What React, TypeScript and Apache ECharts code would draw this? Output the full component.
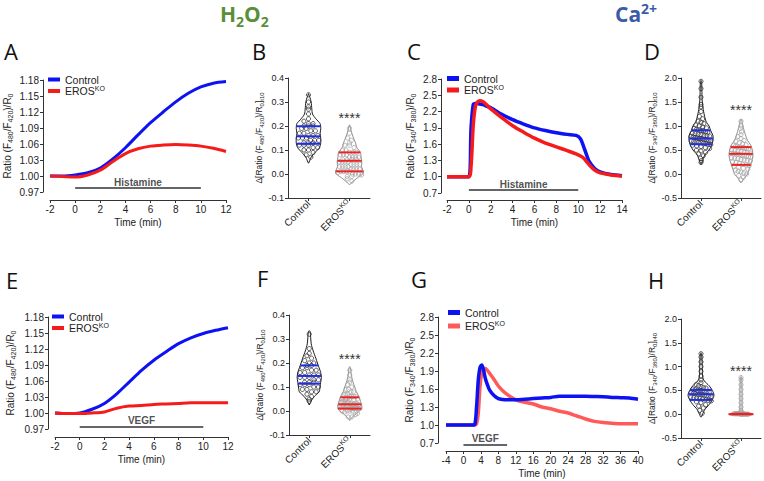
import React, { useEffect, useRef } from 'react';
import * as echarts from 'echarts';

const FONT = 'Liberation Sans, Arial, sans-serif';
const LETTER_FONT = 'Open Sans, sans-serif';
const BLUE = '#0d12f2';
const RED = '#f51b1b';
const RED_LIGHT = '#ff5a5a';
const AX = '#333333';
const TXT = '#222222';

// ---------- Panel A (H2O2, histamine) ----------
const A_TIME = [-2, -1, 0, 1, 2, 3, 4, 5, 6, 7, 8, 9, 10, 11, 12];
const A_CTRL = [1.0, 1.0, 1.002, 1.006, 1.015, 1.032, 1.053, 1.077, 1.1, 1.12, 1.139, 1.155, 1.167, 1.174, 1.177];
const A_KO = [1.0, 0.999, 0.998, 1.002, 1.011, 1.027, 1.042, 1.051, 1.056, 1.058, 1.059, 1.058, 1.056, 1.052, 1.046];
const A_Y = [0.97, 1.18, 0.03];
const A_X = [-2, 12, 2];
const A_STIM = [0, 10];
const A_STIM_Y = 0.9775;

// ---------- Panel C (Ca2+, histamine) ----------
const C_TIME = [-2, -1, 0, 0.2, 0.4, 0.6, 0.8, 1, 1.3, 1.6, 2, 3, 4, 5, 6, 7, 8, 9, 9.8, 10.2, 10.5, 10.8, 11, 11.5, 12, 13, 14];
const C_CTRL = [1.0, 1.0, 1.0, 1.9, 2.33, 2.35, 2.35, 2.34, 2.33, 2.3, 2.27, 2.15, 2.05, 1.97, 1.9, 1.85, 1.81, 1.78, 1.76, 1.7, 1.55, 1.38, 1.28, 1.15, 1.09, 1.04, 1.02];
const C_KO = [1.0, 1.0, 1.0, 1.2, 1.95, 2.3, 2.38, 2.4, 2.38, 2.33, 2.25, 2.09, 1.94, 1.82, 1.71, 1.62, 1.55, 1.48, 1.42, 1.38, 1.34, 1.27, 1.22, 1.12, 1.07, 1.03, 1.01];
const C_Y = [0.7, 2.8, 0.3];
const C_X = [-2, 14, 2];
const C_STIM = [0, 10];
const C_STIM_Y = 0.755;

// ---------- Panel E (H2O2, VEGF) ----------
const E_TIME = [-2, -1, 0, 1, 2, 3, 4, 5, 6, 7, 8, 9, 10, 11, 12];
const E_CTRL = [1.0, 0.999, 1.0, 1.007, 1.018, 1.036, 1.058, 1.08, 1.099, 1.115, 1.13, 1.141, 1.149, 1.155, 1.16];
const E_KO = [1.0, 0.999, 0.999, 1.0, 1.002, 1.009, 1.013, 1.014, 1.016, 1.017, 1.018, 1.019, 1.019, 1.019, 1.019];
const E_Y = [0.97, 1.18, 0.03];
const E_X = [-2, 12, 2];
const E_STIM = [0, 10];
const E_STIM_Y = 0.9738;

// ---------- Panel G (Ca2+, VEGF) ----------
const G_TIME = [-4, -2, 0, 2, 2.6, 3, 3.4, 3.8, 4.2, 4.6, 5, 5.5, 6, 7, 8, 9, 10, 12, 14, 16, 18, 20, 22, 24, 26, 28, 30, 32, 34, 36, 38, 40];
const G_CTRL = [1.0, 1.0, 1.0, 1.0, 1.01, 1.3, 1.75, 1.96, 2.0, 1.92, 1.78, 1.67, 1.58, 1.49, 1.44, 1.425, 1.42, 1.42, 1.43, 1.44, 1.45, 1.46, 1.48, 1.48, 1.48, 1.48, 1.475, 1.47, 1.46, 1.455, 1.45, 1.43];
const G_KO = [1.0, 1.0, 1.0, 1.0, 1.0, 1.02, 1.2, 1.65, 1.87, 1.93, 1.94, 1.91, 1.86, 1.76, 1.65, 1.57, 1.51, 1.42, 1.38, 1.35, 1.3, 1.27, 1.23, 1.2, 1.15, 1.1, 1.06, 1.04, 1.03, 1.02, 1.02, 1.02];
const G_Y = [0.7, 2.8, 0.3];
const G_X = [-4, 40, 4];
const G_STIM = [0, 10];
const G_STIM_Y = 0.667;

// ---------- Violin panels ----------
const VIOLIN_CATS = ['Control', 'EROS'];

// profiles: [value, relative density]
const B_CTRL_PROFILE = [[0.045, 0], [0.05, 0.05], [0.07, 0.2], [0.09, 0.5], [0.11, 0.82], [0.13, 0.92], [0.15, 0.92], [0.17, 0.87], [0.19, 0.92], [0.21, 0.87], [0.23, 0.55], [0.25, 0.3], [0.27, 0.25], [0.3, 0.2], [0.32, 0.1], [0.335, 0]];
const B_CTRL_Q = [0.126, 0.157, 0.199];
const B_CTRL_PTS = [0.33, 0.3, 0.28, 0.27, 0.25, 0.23, 0.22, 0.21, 0.21, 0.2, 0.2, 0.2, 0.19, 0.19, 0.18, 0.18, 0.17, 0.17, 0.16, 0.16, 0.16, 0.15, 0.15, 0.15, 0.14, 0.14, 0.14, 0.13, 0.13, 0.13, 0.12, 0.12, 0.12, 0.11, 0.11, 0.1, 0.1, 0.09, 0.08, 0.07];
const B_KO_PROFILE = [[-0.045, 0], [-0.04, 0.08], [-0.02, 0.5], [0, 1.0], [0.01, 1.05], [0.03, 0.9], [0.05, 0.92], [0.07, 0.87], [0.09, 0.82], [0.11, 0.55], [0.13, 0.45], [0.15, 0.3], [0.18, 0.12], [0.2, 0.03], [0.205, 0]];
const B_KO_Q = [0.011, 0.055, 0.09];
const B_KO_PTS = [0.19, 0.17, 0.15, 0.14, 0.13, 0.12, 0.12, 0.11, 0.1, 0.1, 0.09, 0.09, 0.09, 0.08, 0.08, 0.08, 0.07, 0.07, 0.07, 0.07, 0.06, 0.06, 0.06, 0.06, 0.05, 0.05, 0.05, 0.05, 0.04, 0.04, 0.04, 0.04, 0.03, 0.03, 0.03, 0.03, 0.02, 0.02, 0.02, 0.02, 0.01, 0.01, 0.01, 0.01, 0.01, 0.0, 0.0, 0.0, 0.0, -0.01, -0.01, -0.02, -0.03];
const B_Y = [-0.1, 0.4, 0.1];
const B_STAR = 0.245;

const D_CTRL_PROFILE = [[0.2, 0], [0.22, 0.05], [0.3, 0.15], [0.4, 0.3], [0.5, 0.62], [0.6, 0.82], [0.7, 0.92], [0.8, 0.92], [0.9, 0.75], [1.0, 0.62], [1.1, 0.38], [1.3, 0.2], [1.5, 0.1], [1.7, 0.07], [1.93, 0.05], [1.95, 0]];
const D_CTRL_Q = [0.62, 0.74, 0.91];
const D_CTRL_PTS = [1.93, 1.78, 1.6, 1.45, 1.4, 1.3, 1.2, 1.15, 1.1, 1.08, 1.05, 1.02, 1.0, 0.98, 0.96, 0.95, 0.93, 0.92, 0.9, 0.9, 0.88, 0.87, 0.85, 0.84, 0.83, 0.82, 0.8, 0.8, 0.79, 0.78, 0.77, 0.76, 0.75, 0.74, 0.74, 0.73, 0.72, 0.71, 0.7, 0.7, 0.69, 0.68, 0.67, 0.66, 0.65, 0.64, 0.63, 0.62, 0.61, 0.6, 0.58, 0.57, 0.55, 0.53, 0.5, 0.48, 0.45, 0.42, 0.38, 0.33, 0.28, 0.24];
const D_KO_PROFILE = [[-0.18, 0], [-0.17, 0.05], [-0.1, 0.2], [0, 0.5], [0.1, 0.62], [0.2, 0.75], [0.3, 0.87], [0.4, 0.92], [0.5, 0.87], [0.6, 0.75], [0.7, 0.5], [0.85, 0.3], [1.0, 0.15], [1.12, 0.05], [1.14, 0]];
const D_KO_Q = [0.19, 0.42, 0.56];
const D_KO_PTS = [1.1, 1.0, 0.95, 0.88, 0.82, 0.78, 0.74, 0.7, 0.68, 0.65, 0.63, 0.61, 0.6, 0.58, 0.57, 0.56, 0.55, 0.54, 0.53, 0.52, 0.5, 0.49, 0.48, 0.47, 0.46, 0.45, 0.44, 0.43, 0.42, 0.42, 0.41, 0.4, 0.39, 0.38, 0.37, 0.36, 0.35, 0.34, 0.33, 0.32, 0.3, 0.29, 0.28, 0.27, 0.25, 0.24, 0.22, 0.2, 0.19, 0.18, 0.16, 0.14, 0.12, 0.1, 0.08, 0.06, 0.04, 0.02, 0.0, -0.03, -0.07, -0.12];
const D_Y = [-0.5, 2.0, 0.5];
const D_STAR = 1.4;

const F_CTRL_PROFILE = [[0.025, 0], [0.03, 0.05], [0.04, 0.12], [0.06, 0.38], [0.08, 0.75], [0.1, 0.82], [0.12, 0.87], [0.14, 0.92], [0.16, 0.87], [0.18, 0.75], [0.2, 0.62], [0.22, 0.5], [0.25, 0.3], [0.28, 0.15], [0.33, 0.07], [0.335, 0]];
const F_CTRL_Q = [0.114, 0.146, 0.19];
const F_CTRL_PTS = [0.32, 0.26, 0.24, 0.23, 0.22, 0.21, 0.2, 0.2, 0.19, 0.19, 0.18, 0.18, 0.17, 0.17, 0.16, 0.16, 0.15, 0.15, 0.15, 0.14, 0.14, 0.14, 0.13, 0.13, 0.12, 0.12, 0.12, 0.11, 0.11, 0.11, 0.1, 0.1, 0.09, 0.09, 0.08, 0.08, 0.07, 0.06, 0.05, 0.04];
const F_KO_PROFILE = [[-0.04, 0], [-0.035, 0.05], [-0.02, 0.3], [0, 0.75], [0.01, 0.9], [0.02, 0.92], [0.04, 0.82], [0.06, 0.7], [0.08, 0.5], [0.1, 0.38], [0.12, 0.25], [0.15, 0.12], [0.18, 0.05], [0.185, 0]];
const F_KO_Q = [0.01, 0.028, 0.057];
const F_KO_PTS = [0.17, 0.15, 0.13, 0.12, 0.11, 0.1, 0.09, 0.09, 0.08, 0.08, 0.07, 0.07, 0.07, 0.06, 0.06, 0.06, 0.06, 0.05, 0.05, 0.05, 0.05, 0.05, 0.04, 0.04, 0.04, 0.04, 0.04, 0.04, 0.03, 0.03, 0.03, 0.03, 0.03, 0.03, 0.03, 0.02, 0.02, 0.02, 0.02, 0.02, 0.02, 0.02, 0.02, 0.01, 0.01, 0.01, 0.01, 0.01, 0.01, 0.01, 0.01, 0.0, 0.0, 0.0, 0.0, 0.0, -0.01, -0.01, -0.02, -0.02];
const F_Y = [-0.1, 0.4, 0.1];
const F_STAR = 0.23;

const H_CTRL_PROFILE = [[-0.06, 0], [-0.05, 0.05], [0, 0.12], [0.1, 0.3], [0.2, 0.62], [0.3, 0.87], [0.4, 1.0], [0.5, 0.87], [0.6, 0.62], [0.7, 0.25], [0.8, 0.12], [1.0, 0.1], [1.27, 0.05], [1.29, 0]];
const H_CTRL_Q = [0.3, 0.42, 0.51];
const H_CTRL_PTS = [1.27, 1.2, 1.1, 1.0, 0.9, 0.8, 0.72, 0.66, 0.62, 0.6, 0.58, 0.56, 0.55, 0.53, 0.52, 0.5, 0.5, 0.49, 0.48, 0.47, 0.46, 0.45, 0.44, 0.43, 0.42, 0.42, 0.41, 0.4, 0.39, 0.38, 0.37, 0.36, 0.35, 0.34, 0.33, 0.32, 0.3, 0.29, 0.28, 0.26, 0.24, 0.2, 0.17, 0.13, 0.08, 0.02];
const H_KO_PROFILE = [[-0.035, 0], [-0.03, 0.05], [-0.02, 0.75], [0, 0.95], [0.02, 0.5], [0.07, 0.12], [0.2, 0.08], [0.5, 0.08], [0.77, 0.05], [0.79, 0]];
const H_KO_Q = [0.0, 0.005, 0.01];
const H_KO_PTS = [0.77, 0.72, 0.62, 0.52, 0.42, 0.33, 0.24, 0.15, 0.08, 0.04, 0.02, 0.01, 0.01, 0.01, 0.01, 0.01, 0.01, 0.0, 0.0, 0.0, 0.0, 0.0, 0.0, 0.0, 0.0];
const H_Y = [-0.5, 2.0, 0.5];
const H_STAR = 0.98;

// ---------- helpers ----------
const VIOLIN_HALF = 0.325; // max half-width as fraction of band
const ROW_PX = 4.2;
const SPACING = 4.6;
const PR = 2.1;

const RICH = {
  m: { fontSize: 10, lineHeight: 14, verticalAlign: 'middle', fontFamily: FONT, color: TXT },
  s: { fontSize: 7, lineHeight: 8, verticalAlign: 'bottom', fontFamily: FONT, color: TXT },
  sup: { fontSize: 7, lineHeight: 8, verticalAlign: 'top', fontFamily: FONT, color: TXT },
};
const RICH_SMALL = {
  m: { fontSize: 8.5, lineHeight: 11, verticalAlign: 'middle', fontFamily: FONT, color: TXT },
  s: { fontSize: 6, lineHeight: 7, verticalAlign: 'bottom', fontFamily: FONT, color: TXT },
  sup: { fontSize: 6, lineHeight: 7, verticalAlign: 'top', fontFamily: FONT, color: TXT },
};
const RICH_CAT = {
  m: { fontSize: 10, lineHeight: 13, verticalAlign: 'middle', fontFamily: FONT, color: TXT },
  sup: { fontSize: 7, lineHeight: 8, verticalAlign: 'top', fontFamily: FONT, color: TXT },
};

function densAt(profile: number[][], v: number) {
  for (let i = 0; i < profile.length - 1; i++) {
    const [v0, d0] = profile[i];
    const [v1, d1] = profile[i + 1];
    if (v >= v0 && v <= v1) return d0 + ((d1 - d0) * (v - v0)) / (v1 - v0 || 1);
  }
  return 0;
}

type Group = { profile: number[][]; q: number[]; pts: number[]; outline: string; pc: string; qc: string };

function makeViolin(groups: Group[], star: number) {
  return (params: any, api: any) => {
    const i = params.dataIndex;
    const g = groups[i];
    const cx = api.coord([i, 0])[0];
    const band = api.size([1, 0])[0];
    const maxHalf = band * VIOLIN_HALF;
    const yOf = (v: number) => api.coord([i, v])[1];
    const right = g.profile.map(([v, d]) => [cx + d * maxHalf, yOf(v)]);
    const left = g.profile.slice().reverse().map(([v, d]) => [cx - d * maxHalf, yOf(v)]);
    const children: any[] = [];
    children.push({
      type: 'polygon',
      shape: { points: right.concat(left), smooth: 0.25 },
      style: { fill: 'none', stroke: g.outline, lineWidth: 1 },
    });
    const rows: Record<string, number[]> = {};
    g.pts.forEach((v) => {
      const key = String(Math.round(yOf(v) / ROW_PX));
      (rows[key] = rows[key] || []).push(v);
    });
    Object.keys(rows).forEach((k) => {
      const vs = rows[k];
      const n = vs.length;
      const lim = Math.max(densAt(g.profile, vs[0]) * maxHalf - PR, 0);
      let sp = SPACING;
      if (n > 1 && ((n - 1) * sp) / 2 > lim) sp = (2 * lim) / (n - 1);
      vs.forEach((v, j) => {
        children.push({
          type: 'circle',
          shape: { cx: cx + (j - (n - 1) / 2) * sp, cy: yOf(v), r: PR },
          style: { fill: 'none', stroke: g.pc, lineWidth: 0.8 },
        });
      });
    });
    g.q.forEach((q) => {
      const h = Math.max(densAt(g.profile, q) * maxHalf, 3);
      children.push({
        type: 'line',
        shape: { x1: cx - h, y1: yOf(q), x2: cx + h, y2: yOf(q) },
        style: { stroke: g.qc, lineWidth: 2 },
      });
    });
    if (i === 1) {
      children.push({
        type: 'text',
        style: { text: '****', x: cx, y: yOf(star) + 3, align: 'center', verticalAlign: 'middle', fontSize: 14, fontFamily: FONT, fill: '#333' },
      });
    }
    return { type: 'group', children };
  };
}

const zip = (t: number[], v: number[]) => t.map((x, i) => [x, v[i]]);

const axLine = { show: true, onZero: false, lineStyle: { color: AX, width: 1 } };
const axTick = { show: true, length: 3, lineStyle: { color: AX, width: 1 } };

function lineXAxis(gi: number, r: number[], offset: number) {
  return {
    type: 'value', gridIndex: gi, min: r[0], max: r[1], interval: r[2], offset,
    axisLine: axLine, axisTick: axTick, splitLine: { show: false },
    axisLabel: { fontSize: 10, color: TXT, margin: 4, fontFamily: FONT },
    name: 'Time (min)', nameLocation: 'middle', nameGap: 17,
    nameTextStyle: { fontSize: 10, color: TXT, fontFamily: FONT },
  };
}
function lineYAxis(gi: number, r: number[], offset: number, digits: number, name: string, gap: number) {
  return {
    type: 'value', gridIndex: gi, min: r[0], max: r[1], interval: r[2], offset,
    axisLine: axLine, axisTick: axTick, splitLine: { show: false },
    axisLabel: { fontSize: 10, color: TXT, margin: 4, fontFamily: FONT, formatter: (v: number) => v.toFixed(digits) },
    name, nameLocation: 'middle', nameRotate: 90, nameGap: gap,
    nameTextStyle: { fontSize: 10, color: TXT, fontFamily: FONT, rich: RICH },
  };
}
function violinXAxis(gi: number) {
  return {
    type: 'category', gridIndex: gi, data: VIOLIN_CATS,
    axisLine: axLine, axisTick: { ...axTick, alignWithLabel: true }, splitLine: { show: false },
    axisLabel: {
      rotate: 45, fontSize: 10, color: TXT, margin: 4, fontFamily: FONT, interval: 0,
      formatter: (v: string) => (v === 'EROS' ? '{m|EROS}{sup|KO}' : '{m|Control}'),
      rich: RICH_CAT,
    },
  };
}
function violinYAxis(gi: number, r: number[], name: string, gap: number) {
  return {
    type: 'value', gridIndex: gi, min: r[0], max: r[1], interval: r[2],
    axisLine: axLine, axisTick: axTick, splitLine: { show: false },
    axisLabel: { fontSize: 9, color: TXT, margin: 4, fontFamily: FONT, formatter: (v: number) => v.toFixed(1) },
    name, nameLocation: 'middle', nameRotate: 90, nameGap: gap,
    nameTextStyle: { fontSize: 8.5, color: TXT, fontFamily: FONT, rich: RICH_SMALL },
  };
}

function curve(name: string, gi: number, t: number[], v: number[], color: string, width: number) {
  return {
    type: 'line', name, xAxisIndex: gi, yAxisIndex: gi, data: zip(t, v),
    showSymbol: false, symbol: 'none', smooth: 0.3, clip: false,
    lineStyle: { color, width }, itemStyle: { color }, z: 3, silent: true,
  };
}
function stim(gi: number, range: number[], y: number, label: string) {
  return [
    {
      type: 'line', xAxisIndex: gi, yAxisIndex: gi, data: range.map((x) => [x, y]),
      showSymbol: false, symbol: 'none', clip: false, silent: true,
      lineStyle: { color: '#333', width: 1.5 },
    },
    {
      type: 'scatter', xAxisIndex: gi, yAxisIndex: gi, data: [[(range[0] + range[1]) / 2, y]],
      symbolSize: 0, clip: false, silent: true,
      label: { show: true, position: 'top', distance: 1, formatter: label, fontSize: 10, fontWeight: 'bold', color: TXT, fontFamily: FONT },
    },
  ];
}
function legend(prefix: string, left: number, top: number, ko: string, h: number, gap: number) {
  return {
    data: [
      { name: prefix + '_ctrl', itemStyle: { color: BLUE } },
      { name: prefix + '_ko', itemStyle: { color: ko } },
    ],
    left, top, orient: 'vertical', icon: 'rect', itemWidth: 12, itemHeight: h, itemGap: gap,
    padding: 0, selectedMode: false,
    formatter: (n: string) => (n.endsWith('_ctrl') ? '{m|Control}' : '{m|EROS}{sup|KO}'),
    textStyle: { fontSize: 10.5, color: TXT, fontFamily: FONT, rich: { ...RICH, m: { ...RICH.m, fontSize: 10.5, lineHeight: 12 } } },
  };
}
function violinSeries(gi: number, groups: Group[], star: number) {
  return {
    type: 'custom', xAxisIndex: gi, yAxisIndex: gi, data: [[0, 0], [1, 0]], encode: { x: 0, y: 1 },
    renderItem: makeViolin(groups, star), silent: true, clip: false, z: 2,
  };
}
const ctrlStyle = { outline: '#1a1a1a', pc: '#333333', qc: '#1f2ee8' };
const koStyle = { outline: '#8c8c8c', pc: '#a3a3a3', qc: '#ee2222' };

const H2O2_NAME = '{m|Ratio (F}{s|480}{m|/F}{s|420}{m|)/R}{s|0}';
const CA_NAME = '{m|Ratio (F}{s|340}{m|/F}{s|380}{m|)/R}{s|0}';
const D480 = '{m|Δ[Ratio (F}{s|480}{m|/F}{s|420}{m|)/R}{s|0}{m|]}{s|t10}';
const D340_10 = '{m|Δ[Ratio (F}{s|340}{m|/F}{s|380}{m|)/R}{s|0}{m|]}{s|t10}';
const D340_40 = '{m|Δ[Ratio (F}{s|340}{m|/F}{s|380}{m|)/R}{s|0}{m|]}{s|t40}';

function letter(t: string, x: number, y: number) {
  return { type: 'text', x, y, style: { text: t, fontSize: 22, fontFamily: LETTER_FONT, fill: '#111', verticalAlign: 'middle', align: 'left' } };
}

export default function App() {
  const ref = useRef<HTMLDivElement>(null);
  useEffect(() => {
    if (!ref.current) return;
    const chart = echarts.init(ref.current, undefined, { renderer: 'svg' });
    const option: any = {
      animation: false,
      backgroundColor: '#ffffff',
      grid: [
        { left: 50, top: 80, width: 176, height: 112 },
        { left: 288, top: 78, width: 82, height: 120 },
        { left: 447, top: 79, width: 175, height: 114 },
        { left: 681, top: 78, width: 80, height: 120 },
        { left: 55, top: 317, width: 173, height: 112 },
        { left: 289, top: 315, width: 81, height: 120 },
        { left: 446, top: 317, width: 192, height: 126 },
        { left: 681, top: 319, width: 80, height: 119 },
      ],
      xAxis: [
        lineXAxis(0, A_X, 8),
        violinXAxis(1),
        lineXAxis(2, C_X, 7),
        violinXAxis(3),
        lineXAxis(4, E_X, 8),
        violinXAxis(5),
        lineXAxis(6, G_X, 8),
        violinXAxis(7),
      ],
      yAxis: [
        lineYAxis(0, A_Y, 7, 2, H2O2_NAME, 29),
        violinYAxis(1, B_Y, D480, 19),
        lineYAxis(2, C_Y, 6, 1, CA_NAME, 24),
        violinYAxis(3, D_Y, D340_10, 18),
        lineYAxis(4, E_Y, 7, 2, H2O2_NAME, 31),
        violinYAxis(5, F_Y, D480, 19),
        lineYAxis(6, G_Y, 8, 1, CA_NAME, 21),
        violinYAxis(7, H_Y, D340_40, 18),
      ],
      legend: [
        legend('A', 48, 74, RED, 4, 0),
        legend('C', 447, 73, RED, 5, 0),
        legend('E', 52, 311, RED, 4, 0),
        legend('G', 448, 307, RED_LIGHT, 5, 2),
      ],
      series: [
        curve('A_ctrl', 0, A_TIME, A_CTRL, BLUE, 3),
        curve('A_ko', 0, A_TIME, A_KO, RED, 3),
        ...stim(0, A_STIM, A_STIM_Y, 'Histamine'),
        curve('C_ctrl', 2, C_TIME, C_CTRL, BLUE, 3.5),
        curve('C_ko', 2, C_TIME, C_KO, RED, 3.5),
        ...stim(2, C_STIM, C_STIM_Y, 'Histamine'),
        curve('E_ctrl', 4, E_TIME, E_CTRL, BLUE, 3),
        curve('E_ko', 4, E_TIME, E_KO, RED, 3),
        ...stim(4, E_STIM, E_STIM_Y, 'VEGF'),
        curve('G_ko', 6, G_TIME, G_KO, RED_LIGHT, 3.5),
        curve('G_ctrl', 6, G_TIME, G_CTRL, BLUE, 3.5),
        ...stim(6, G_STIM, G_STIM_Y, 'VEGF'),
        violinSeries(1, [
          { profile: B_CTRL_PROFILE, q: B_CTRL_Q, pts: B_CTRL_PTS, ...ctrlStyle },
          { profile: B_KO_PROFILE, q: B_KO_Q, pts: B_KO_PTS, ...koStyle },
        ], B_STAR),
        violinSeries(3, [
          { profile: D_CTRL_PROFILE, q: D_CTRL_Q, pts: D_CTRL_PTS, ...ctrlStyle },
          { profile: D_KO_PROFILE, q: D_KO_Q, pts: D_KO_PTS, ...koStyle },
        ], D_STAR),
        violinSeries(5, [
          { profile: F_CTRL_PROFILE, q: F_CTRL_Q, pts: F_CTRL_PTS, ...ctrlStyle },
          { profile: F_KO_PROFILE, q: F_KO_Q, pts: F_KO_PTS, ...koStyle },
        ], F_STAR),
        violinSeries(7, [
          { profile: H_CTRL_PROFILE, q: H_CTRL_Q, pts: H_CTRL_PTS, ...ctrlStyle },
          { profile: H_KO_PROFILE, q: H_KO_Q, pts: H_KO_PTS, ...koStyle },
        ], H_STAR),
      ],
      graphic: [
        {
          type: 'text', x: 220, y: 14,
          style: {
            text: '{m|H}{s|2}{m|O}{s|2}', verticalAlign: 'middle', fill: '#5a8f3a',
            rich: {
              m: { fontSize: 21, fontWeight: 'bold', fontFamily: LETTER_FONT, fill: '#5a8f3a', lineHeight: 28, verticalAlign: 'middle' },
              s: { fontSize: 14, fontWeight: 'bold', fontFamily: LETTER_FONT, fill: '#5a8f3a', lineHeight: 16, verticalAlign: 'bottom' },
            },
          },
        },
        {
          type: 'text', x: 615, y: 14,
          style: {
            text: '{m|Ca}{s|2+}', verticalAlign: 'middle', fill: '#3a5ca6',
            rich: {
              m: { fontSize: 21, fontWeight: 'bold', fontFamily: LETTER_FONT, fill: '#3a5ca6', lineHeight: 26, verticalAlign: 'middle' },
              s: { fontSize: 14, fontWeight: 'bold', fontFamily: LETTER_FONT, fill: '#3a5ca6', lineHeight: 16, verticalAlign: 'top' },
            },
          },
        },
        letter('A', 4, 51),
        letter('B', 252, 51),
        letter('C', 407, 51),
        letter('D', 644, 51),
        letter('E', 6, 280),
        letter('F', 257, 278),
        letter('G', 411, 279),
        letter('H', 648, 280),
      ],
    };
    chart.setOption(option);
    return () => chart.dispose();
  }, []);
  return <div ref={ref} style={{ position: 'fixed', left: 0, top: 0, width: 764, height: 481 }} />;
}
